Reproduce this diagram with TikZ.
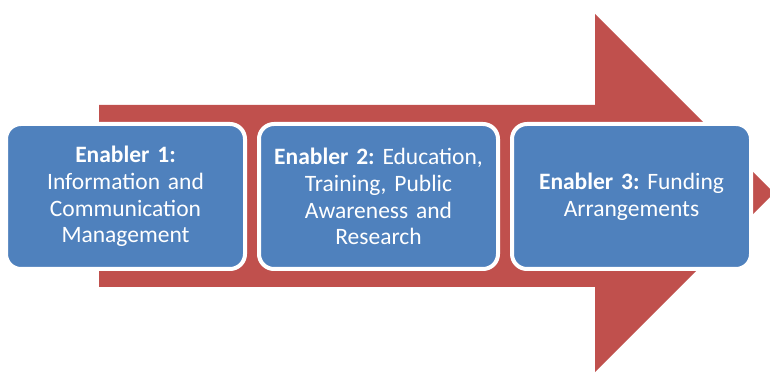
\documentclass[tikz,border=0pt]{standalone}
\usepackage{fontspec}
\setmainfont{Carlito}
\frenchspacing
\usetikzlibrary{positioning}
\definecolor{arrowred}{HTML}{C0504D}
\definecolor{boxblue}{HTML}{4F81BD}
\tikzset{
  enabler/.style={rectangle, rounded corners=15pt, fill=boxblue, draw=white,
    line width=4pt, outer sep=0pt, minimum width=239pt, minimum height=145pt,
    text width=230pt, align=center, text=white,
    font=\fontsize{23.5}{26.8}\selectfont},
}
\begin{document}
\begin{tikzpicture}[x=1pt,y=1pt]
    \useasboundingbox (0,0) rectangle (770,372);
    % big arrow behind the boxes
    \fill[arrowred] (99,85) -- (99,267) -- (595,267) -- (595,358)
        -- (774,179) -- (595,0) -- (595,85) -- cycle;
    \node[enabler] (en1) at (125.5,175.5) {\textbf{Enabler 1:}\\Information and\\Communication\\Management};
    \node[enabler, right=14pt of en1] (en2) {\textbf{Enabler 2:} Education,\\Training, Public\\Awareness and\\Research};
    \node[enabler, right=14pt of en2] (en3) {\textbf{Enabler 3:} Funding\\Arrangements};
\end{tikzpicture}
\end{document}
